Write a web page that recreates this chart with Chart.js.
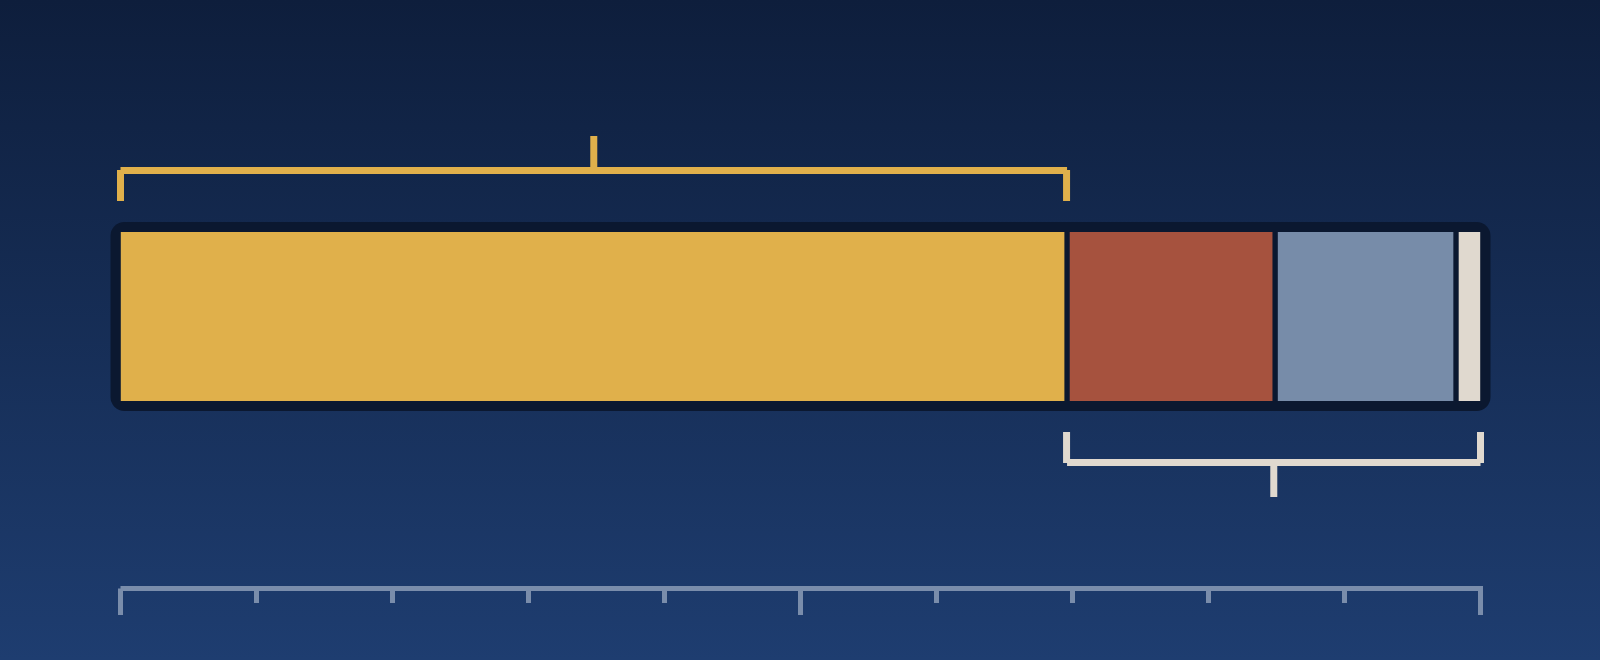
<!DOCTYPE html>
<html>
<head>
<meta charset="utf-8">
<script src="https://cdn.jsdelivr.net/npm/chart.js@4.4.1/dist/chart.umd.min.js"></script>
<style>
  html, body { margin: 0; padding: 0; width: 1600px; height: 660px; overflow: hidden;
    background: linear-gradient(to bottom, #0e1e3c 0%, #1e3d70 100%); }
  #wrap { position: relative; width: 1600px; height: 660px; }
</style>
</head>
<body>
<div id="wrap"><canvas id="c"></canvas></div>
<script>
// ---- data ----
const categories = [''];
const seriesNames = ['A', 'B', 'C', 'D'];
const seriesValues = [69.6, 15.3, 13.3, 1.8];
const seriesColors = ['#e0b04b', '#a6523e', '#778ca9', '#e0d9cf'];
const tickValues = [0, 10, 20, 30, 40, 50, 60, 70, 80, 90, 100];
const majorTicks = [0, 50, 100];
// brackets: [startValue, endValue]
const bracketTop = [0, 69.6];
const bracketBottom = [69.6, 100];

const DARK = '#0b1830';
const AXIS = '#7a8dab';

const datasets = seriesValues.map((v, i) => ({
  label: seriesNames[i],
  data: [v],
  backgroundColor: seriesColors[i],
  borderColor: DARK,
  borderWidth: {
    left: i === 0 ? 0 : 3,
    right: i === seriesValues.length - 1 ? 0 : 3,
    top: 0, bottom: 0
  },
  borderSkipped: false,
  categoryPercentage: 1,
  barPercentage: 1
}));

const decor = {
  id: 'decor',
  beforeDatasetsDraw(chart) {
    const ctx = chart.ctx, x = chart.scales.x;
    const meta = chart.getDatasetMeta(0).data[0];
    const top = meta.y - meta.height / 2, bot = meta.y + meta.height / 2;
    const l = x.getPixelForValue(0) - 10, r = x.getPixelForValue(100) + 10;
    ctx.save();
    ctx.fillStyle = DARK;
    ctx.beginPath();
    ctx.roundRect(l, top - 10, r - l, (bot - top) + 20, 14);
    ctx.fill();
    ctx.restore();
  },
  afterDatasetsDraw(chart) {
    const ctx = chart.ctx, x = chart.scales.x;
    const meta = chart.getDatasetMeta(0).data[0];
    const top = meta.y - meta.height / 2, bot = meta.y + meta.height / 2;
    ctx.save();
    ctx.lineCap = 'butt';
    // top bracket
    let a = x.getPixelForValue(bracketTop[0]), b = x.getPixelForValue(bracketTop[1]);
    let hy = top - 61.5;
    ctx.strokeStyle = seriesColors[0];
    ctx.lineWidth = 7;
    ctx.beginPath();
    ctx.moveTo(a, hy - 0.5); ctx.lineTo(a, top - 31);
    ctx.moveTo(b - 0.5, hy - 0.5); ctx.lineTo(b - 0.5, top - 31);
    ctx.moveTo(a, hy); ctx.lineTo(b, hy);
    ctx.moveTo((a + b) / 2, hy); ctx.lineTo((a + b) / 2, top - 96);
    ctx.stroke();
    // bottom bracket
    a = x.getPixelForValue(bracketBottom[0]); b = x.getPixelForValue(bracketBottom[1]);
    hy = bot + 61.5;
    ctx.strokeStyle = seriesColors[3];
    ctx.beginPath();
    ctx.moveTo(a - 0.5, bot + 31); ctx.lineTo(a - 0.5, hy + 0.5);
    ctx.moveTo(b, bot + 31); ctx.lineTo(b, hy + 0.5);
    ctx.moveTo(a, hy); ctx.lineTo(b, hy);
    ctx.moveTo((a + b) / 2, hy); ctx.lineTo((a + b) / 2, bot + 96);
    ctx.stroke();
    // axis
    const ay = 588.5;
    ctx.strokeStyle = AXIS;
    ctx.lineWidth = 5;
    ctx.beginPath();
    ctx.moveTo(x.getPixelForValue(0), ay); ctx.lineTo(x.getPixelForValue(100) + 2.5, ay);
    tickValues.forEach(v => {
      const px = x.getPixelForValue(v);
      const len = majorTicks.includes(v) ? 26.5 : 14.5;
      ctx.moveTo(px, ay); ctx.lineTo(px, ay + len);
    });
    ctx.stroke();
    ctx.restore();
  }
};

new Chart(document.getElementById('c'), {
  type: 'bar',
  data: { labels: categories, datasets },
  options: {
    indexAxis: 'y',
    responsive: true,
    maintainAspectRatio: false,
    animation: false,
    layout: { padding: { left: 120.5, right: 119.5, top: 232, bottom: 259 } },
    plugins: { legend: { display: false }, tooltip: { enabled: false } },
    scales: {
      x: { min: 0, max: 100, stacked: true, display: false },
      y: { stacked: true, display: false }
    }
  },
  plugins: [decor]
});
</script>
</body>
</html>
